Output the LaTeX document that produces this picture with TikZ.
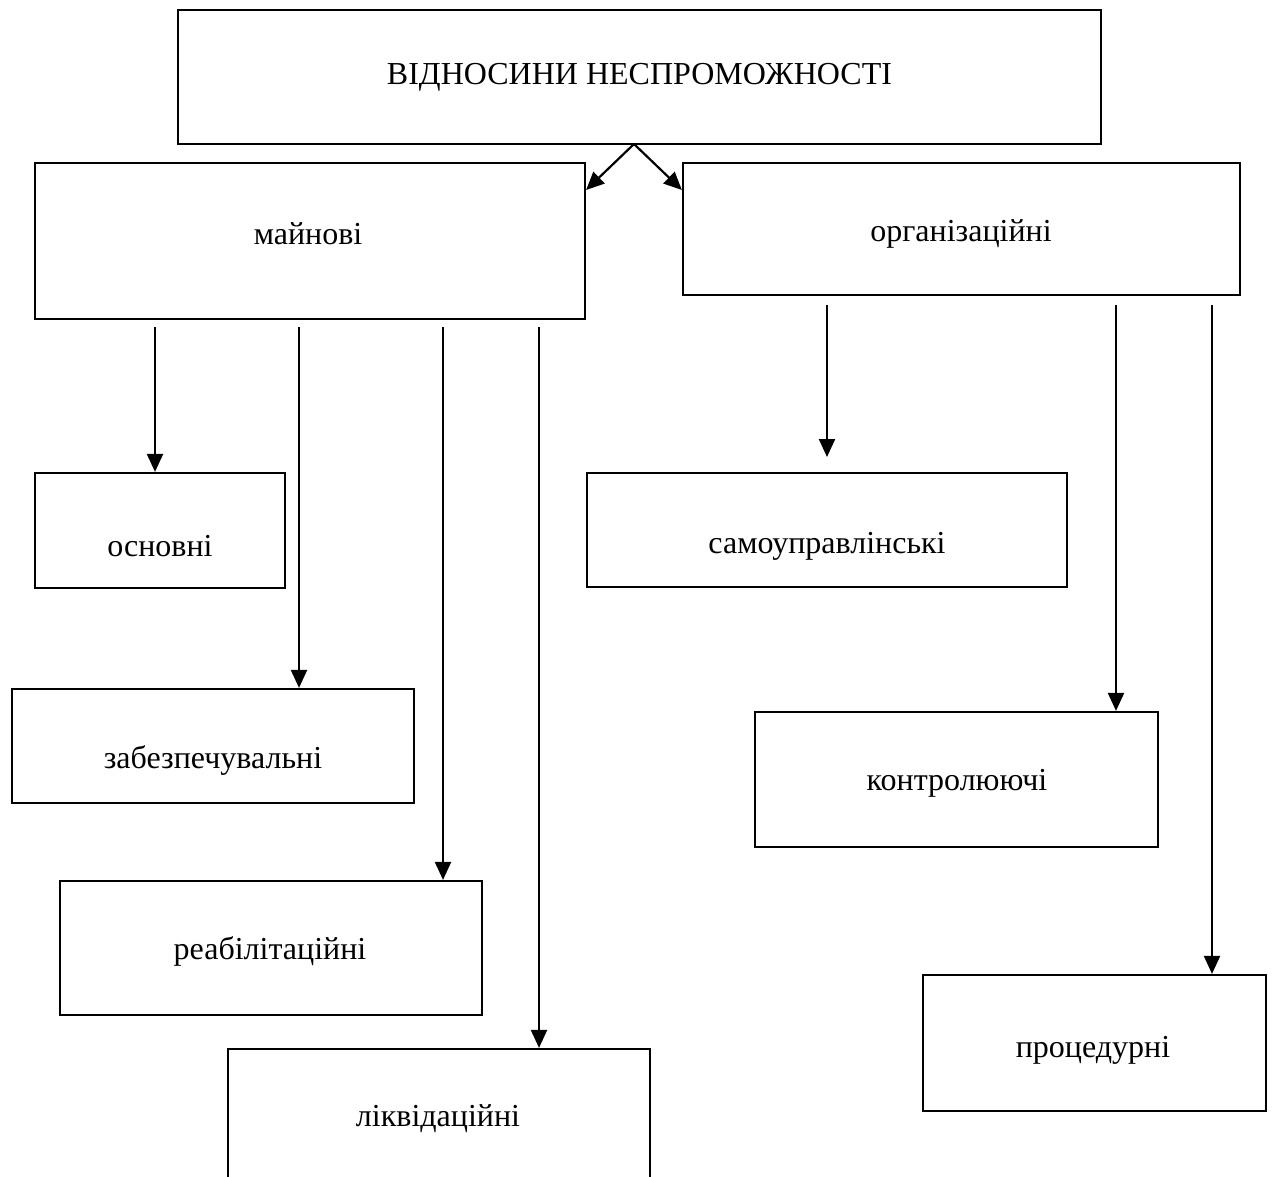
\documentclass[tikz,border=0pt]{standalone}
\usepackage{fontspec}
\setmainfont{Liberation Serif}
\usetikzlibrary{arrows.meta}
\begin{document}
\begin{tikzpicture}[x=1pt,y=-1pt,
  box/.style={draw,line width=2.2pt,inner sep=0pt},
  lbl/.style={font=\fontsize{32}{38}\selectfont,inner sep=0pt},
  arr/.style={line width=2.2pt,-{Triangle[length=18pt,width=16pt]}}]
\useasboundingbox (0,0) rectangle (1277,1176);
\clip (0,0) rectangle (1277,1176);
\node[box,minimum width=923pt,minimum height=134pt] (top) at (639.5,77) {};
\node[lbl] (toptxt) at (639.5,77) {ВІДНОСИНИ НЕСПРОМОЖНОСТІ};
\node[box,minimum width=550pt,minimum height=156pt] (m) at (310,241) {};
\node[lbl] (mt) at (308,234) {майнові};
\node[box,minimum width=557pt,minimum height=132pt] (o) at (961.5,229) {};
\node[lbl] (ot) at (961,234) {організаційні};
\node[box,minimum width=250pt,minimum height=115pt] (osn) at (160,530.5) {};
\node[lbl] (osnt) at (160,546) {основні};
\node[box,minimum width=402pt,minimum height=114pt] (zab) at (213,746) {};
\node[lbl] (zabt) at (213,760) {забезпечувальні};
\node[box,minimum width=422pt,minimum height=134pt] (reb) at (271,948) {};
\node[lbl] (rebt) at (270,951) {реабілітаційні};
\node[box,minimum width=422pt,minimum height=150pt] (lik) at (439,1124) {};
\node[lbl] (likt) at (438,1119) {ліквідаційні};
\node[box,minimum width=480pt,minimum height=114pt] (sam) at (827,530) {};
\node[lbl] (samt) at (827,546) {самоуправлінські};
\node[box,minimum width=403pt,minimum height=135pt] (kon) at (956.5,779.5) {};
\node[lbl] (kont) at (957,783) {контролюючі};
\node[box,minimum width=343pt,minimum height=136pt] (pro) at (1094.5,1043) {};
\node[lbl] (prot) at (1093,1050) {процедурні};
\coordinate (t) at (634,144);
\draw[arr] (t) -- (m.east |- 0,190);
\draw[arr] (t) -- (o.west |- 0,190);
\coordinate (m1) at (155,327);
\coordinate (m2) at (299,327);
\coordinate (m3) at (443,327);
\coordinate (m4) at (539,327);
\draw[arr] (m1) -- (m1 |- osn.north);
\draw[arr] (m2) -- (m2 |- zab.north);
\draw[arr] (m3) -- (m3 |- reb.north);
\draw[arr] (m4) -- (m4 |- lik.north);
\coordinate (o1) at (827,305);
\coordinate (o2) at (1116,305);
\coordinate (o3) at (1212,305);
\coordinate (e1) at (827,457);
\draw[arr] (o1) -- (e1);
\draw[arr] (o2) -- (o2 |- kon.north);
\draw[arr] (o3) -- (o3 |- pro.north);
\end{tikzpicture}
\end{document}
